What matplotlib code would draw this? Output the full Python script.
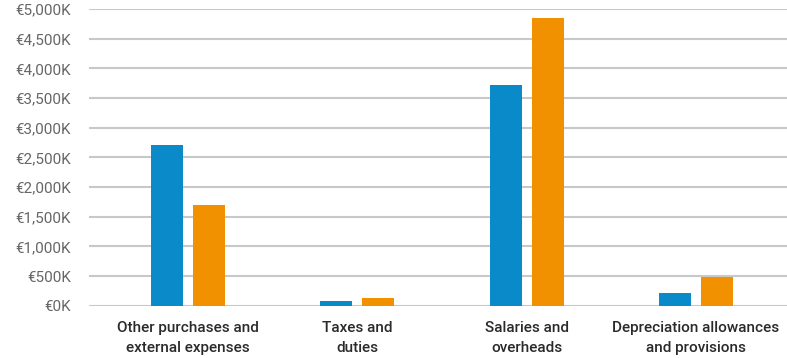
import numpy as np
import matplotlib.pyplot as plt
from matplotlib.ticker import FuncFormatter

# Values in thousands of euros
categories = ["Other purchases and\nexternal expenses", "Taxes and\nduties",
              "Salaries and\noverheads", "Depreciation allowances\nand provisions"]
series_a = [2708, 79, 3719, 214]
series_b = [1697, 130, 4848, 484]

plt.rcParams['font.family'] = ['Roboto', 'DejaVu Sans']

fig = plt.figure(figsize=(7.87, 3.58), dpi=100)
ax = fig.add_axes([0.113, 0.146, 0.887, 0.829])

x = np.arange(len(categories))
w = 0.189
off = 0.124
ax.bar(x - off, series_a, w, color='#0a8ac8', zorder=3)
ax.bar(x + off, series_b, w, color='#f29100', zorder=3)

ax.set_ylim(0, 5000)
ax.set_xlim(-0.584, 3.537)
ax.set_yticks(np.arange(0, 5001, 500))
ax.yaxis.set_major_formatter(FuncFormatter(lambda v, p: f"€{int(v):,}K"))
ax.yaxis.grid(True, color='#c8c8c8', linewidth=1.5, zorder=0)
ax.set_xticks(x)
ax.set_xticklabels(categories, fontsize=11, color='#2a2a2a', linespacing=1.5,
                   fontweight='medium')
ax.tick_params(axis='y', labelsize=11, labelcolor='#666666', length=0, pad=13)
ax.tick_params(axis='x', length=0, pad=11)
for s in ax.spines.values():
    s.set_visible(False)

fig.savefig('out.png', dpi=100)
